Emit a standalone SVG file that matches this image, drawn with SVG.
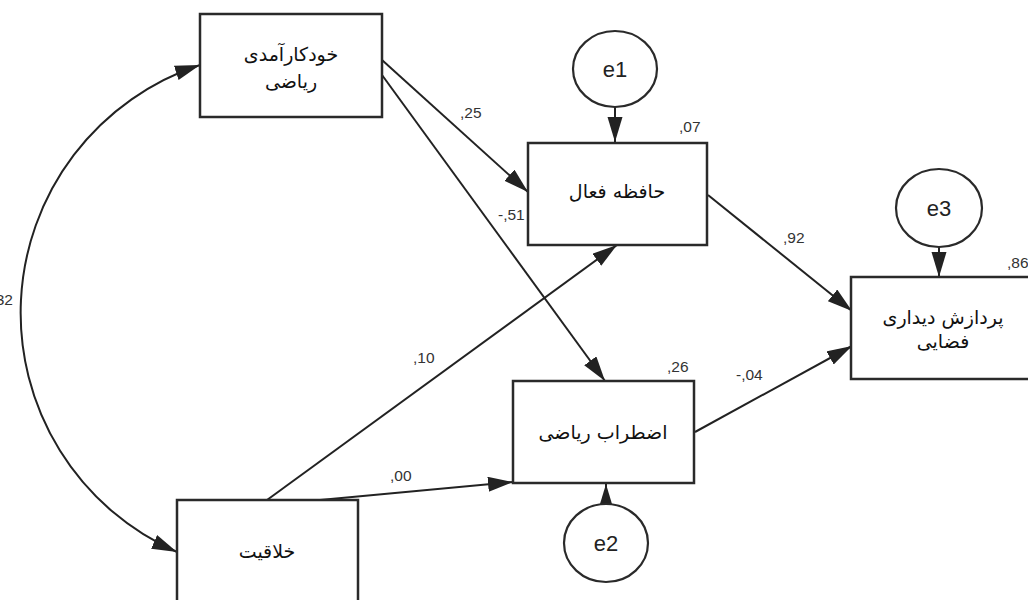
<svg xmlns="http://www.w3.org/2000/svg" width="1028" height="600" viewBox="0 0 1028 600">
<style>
.box{fill:#fff;stroke:#2a2a2a;stroke-width:2.5}
.err{fill:#fff;stroke:#2a2a2a;stroke-width:2.2}
.edge{fill:none;stroke:#222;stroke-width:2;marker-end:url(#ah)}
.fa{font-family:"DejaVu Sans","Noto Sans",sans-serif;font-size:19px;fill:#111;text-anchor:middle}
.el{font-family:"Liberation Sans",Arial,sans-serif;font-size:22px;fill:#222;text-anchor:middle}
.lb{font-family:"Liberation Sans",Arial,sans-serif;font-size:15.5px;fill:#333}
</style>
<defs>
<marker id="ah" markerUnits="userSpaceOnUse" markerWidth="26" markerHeight="16" refX="25" refY="7.5" orient="auto-start-reverse">
<path d="M0,0 L25,7.5 L0,15 z" fill="#222"/>
</marker>
</defs>
<rect width="1028" height="600" fill="#fff"/>
<g id="connectors">
<path class="edge" d="M200,65 A261,261 0 0 0 177,552" marker-start="url(#ah)"/>
<line class="edge" x1="382" y1="60" x2="528" y2="192"/>
<line class="edge" x1="382" y1="75" x2="605" y2="381"/>
<line class="edge" x1="267" y1="500" x2="617" y2="245"/>
<line class="edge" x1="320" y1="500" x2="513" y2="482"/>
<line class="edge" x1="708" y1="195" x2="852" y2="311"/>
<line class="edge" x1="695" y1="432" x2="852" y2="346"/>
<line class="edge" x1="615" y1="107" x2="615" y2="142"/>
<line class="edge" x1="939" y1="247" x2="939" y2="277"/>
<line class="edge" x1="606" y1="504" x2="606" y2="484"/>
</g>
<g id="labels">
<text class="lb" x="460" y="118">,25</text>
<text class="lb" x="498" y="220">-,51</text>
<text class="lb" x="679" y="132">,07</text>
<text class="lb" x="783" y="243">,92</text>
<text class="lb" x="1007" y="268">,86</text>
<text class="lb" x="413" y="363">,10</text>
<text class="lb" x="390" y="481">,00</text>
<text class="lb" x="667" y="372">,26</text>
<text class="lb" x="736" y="380">-,04</text>
<text class="lb" x="13" y="305" text-anchor="end">,32</text>
</g>
<g id="n-khodkaramadi">
<rect class="box" x="200" y="14" width="182" height="103"/>
<text class="fa" x="291" y="61">خودکارآمدی</text>
<text class="fa" x="291" y="88">ریاضی</text>
</g>
<g id="n-hafeze">
<rect class="box" x="528" y="143" width="179" height="102"/>
<text class="fa" x="617" y="198">حافظه فعال</text>
</g>
<g id="n-pardazesh">
<rect class="box" x="851" y="277" width="182" height="102"/>
<text class="fa" x="943" y="324">پردازش دیداری</text>
<text class="fa" x="943" y="348">فضایی</text>
</g>
<g id="n-ezterab">
<rect class="box" x="513" y="381" width="181" height="102"/>
<text class="fa" x="603" y="439">اضطراب ریاضی</text>
</g>
<g id="n-khallaghiat">
<rect class="box" x="177" y="500" width="181" height="102"/>
<text class="fa" x="267" y="558">خلاقیت</text>
</g>
<g id="n-e1">
<ellipse class="err" cx="615" cy="69" rx="42" ry="38"/>
<text class="el" x="615" y="77">e1</text>
</g>
<g id="n-e3">
<ellipse class="err" cx="939" cy="208" rx="43" ry="39"/>
<text class="el" x="939" y="216">e3</text>
</g>
<g id="n-e2">
<ellipse class="err" cx="606" cy="543" rx="42" ry="39"/>
<text class="el" x="606" y="551">e2</text>
</g>
</svg>
